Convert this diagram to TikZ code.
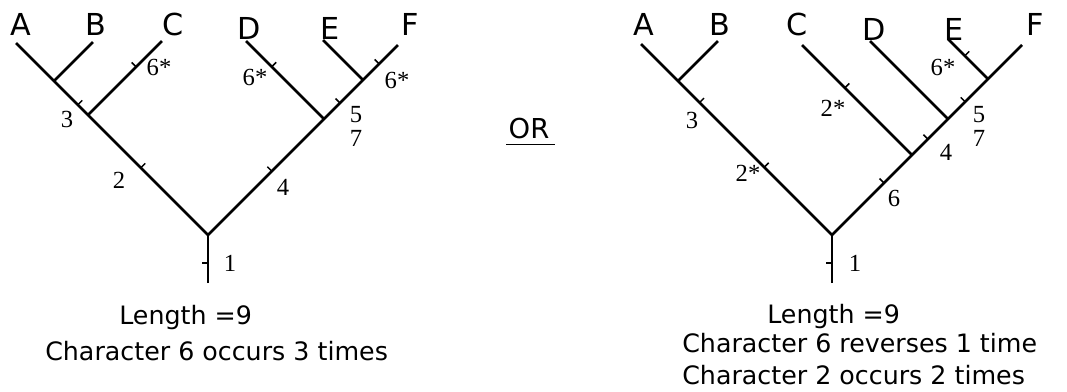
\documentclass[tikz,border=0pt]{standalone}
\usepackage{fontspec}
\setmainfont{Liberation Serif}
\setsansfont{DejaVu Sans}
\usetikzlibrary{calc}
\newcommand{\tickbar}{\rule{1.1pt}{4.5pt}}

\begin{document}
\begin{tikzpicture}[x=0.025cm,y=-0.025cm]
    \tikzset{branch/.style={line width=1.8pt},
      tickmark/.style={sloped,anchor=south,inner sep=0pt,outer sep=0pt},
      taxon/.style={font=\sffamily\fontsize{21.5}{24}\selectfont,inner sep=0pt},
      state/.style={font=\rmfamily\fontsize{17.5}{20}\selectfont,inner sep=0pt},
      caption/.style={font=\sffamily\fontsize{18}{22}\selectfont,anchor=base west,inner sep=0pt}}
    \useasboundingbox (0,0) rectangle (1067,391);

    % Left tree
    \foreach \id/\x/\y in {lbase/208/283,lroot/208/235,ljC/88/115,ljAB/54/81,
                           ltA/16/43,ltB/93/42,ltC/162/41,ljD/324/119,ljE/363/80,
                           ltD/246/41,ltE/323/40,ltF/398/45}{
      \coordinate (\id) at (\x,\y);
    }
    \draw[branch] (lbase) -- node[tickmark,pos=.42]{\tickbar} (lroot);
    \draw[branch] (ltA) -- (ljAB) -- node[tickmark,pos=.7]{\tickbar} (ljC)
      -- node[tickmark,pos=.44]{\tickbar} (lroot) -- node[tickmark,pos=.55]{\tickbar} (ljD)
      -- node[tickmark,pos=.41]{\tickbar} (ljE) -- node[tickmark,pos=.46]{\tickbar} (ltF);
    \draw[branch] (ljAB) -- (ltB);
    \draw[branch] (ljC) -- node[tickmark,pos=.65]{\tickbar} (ltC);
    \draw[branch] (ljD) -- node[tickmark,pos=.67]{\tickbar} (ltD);
    \draw[branch] (ljE) -- (ltE);
    \foreach \id/\x/\y/\t in {lA/21/24/A,lB/96/24/B,lC/173/24/C,lD/249/28/D,lE/330/28/E,lF/410/24/F}{
      \node[taxon] (\id) at (\x,\y) {\t};
    }
    \foreach \id/\x/\y/\t in {ls1/230/263/1,ls3/67/119/3,ls2/119/180/2,lsC/159/67/6*,
                             lsD/255/77/6*,lsF/397/80/6*,ls5/356/115/5,ls7/356/138/7,ls4/283/187/4}{
      \node[state] (\id) at (\x,\y) {\t};
    }
    \node[caption] (llen) at (119,324) {Length =9};
    \node[caption] (lchar) at (45,360) {Character 6 occurs 3 times};

    % OR
    \node[font=\sffamily\fontsize{19.5}{22}\selectfont,inner sep=0pt] (or) at (529,129) {OR};
    \draw[line width=1pt] ($(or.south west)+(-2,5)$) -- ($(or.south east)+(5,5)$);

    % Right tree
    \foreach \id/\x/\y in {rbase/832/283,rroot/832/235,rjAB/678/81,rtA/641/44,rtB/718/41,
                           rjC/912/155,rtC/802/45,rjD/948/119,rtD/870/41,rjE/988/79,
                           rtE/948/39,rtF/1022/45}{
      \coordinate (\id) at (\x,\y);
    }
    \draw[branch] (rbase) -- node[tickmark,pos=.42]{\tickbar} (rroot);
    \draw[branch] (rtA) -- (rjAB) -- node[tickmark,pos=.14]{\tickbar} node[tickmark,pos=.56]{\tickbar} (rroot)
      -- node[tickmark,pos=.65]{\tickbar} (rjC) -- node[tickmark,pos=.44]{\tickbar} (rjD)
      -- node[tickmark,pos=.43]{\tickbar} (rjE) -- (rtF);
    \draw[branch] (rjAB) -- (rtB);
    \draw[branch] (rjC) -- node[tickmark,pos=.61]{\tickbar} (rtC);
    \draw[branch] (rjD) -- (rtD);
    \draw[branch] (rjE) -- node[tickmark,pos=.58]{\tickbar} (rtE);
    \foreach \id/\x/\y/\t in {rA/644/24/A,rB/720/24/B,rC/797/24/C,rD/874/29/D,rE/954/29/E,rF/1035/24/F}{
      \node[taxon] (\id) at (\x,\y) {\t};
    }
    \foreach \id/\x/\y/\t in {rs1/855/263/1,rs3/692/120/3,rs2a/748/173/2*,rs2b/833/108/2*,
                             rsE/943/67/6*,rs4/946/152/4,rs5/979/115/5,rs7/979/138/7,rs6/894/198/6}{
      \node[state] (\id) at (\x,\y) {\t};
    }
    \node[caption] (rlen) at (767,323) {Length =9};
    \node[caption] (rrev) at (682,352) {Character 6 reverses 1 time};
    \node[caption] (rchar) at (682,384) {Character 2 occurs 2 times};
  \end{tikzpicture}
\end{document}
